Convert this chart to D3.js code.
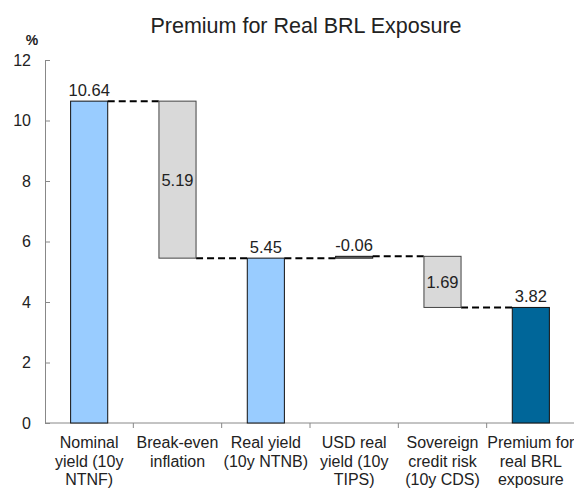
<!DOCTYPE html>
<html>
<head>
<meta charset="utf-8">
<script src="https://cdnjs.cloudflare.com/ajax/libs/d3/7.8.5/d3.min.js"></script>
<style>
  body { margin: 0; background: #fff; }
  text { font-family: "Liberation Sans", Arial, sans-serif; fill: #222; }
</style>
</head>
<body>
<div id="chart"></div>
<script>
const categories = [
  ['Nominal', 'yield (10y', 'NTNF)'],
  ['Break-even', 'inflation'],
  ['Real yield', '(10y NTNB)'],
  ['USD real', 'yield (10y', 'TIPS)'],
  ['Sovereign', 'credit risk', '(10y CDS)'],
  ['Premium for', 'real BRL', 'exposure']
];
const barLow = [0, 5.45, 0, 5.45, 3.82, 0];
const barHigh = [10.64, 10.64, 5.45, 5.51, 5.51, 3.82];
const labels = ['10.64', '5.19', '5.45', '-0.06', '1.69', '3.82'];
const labelInside = [false, true, false, false, true, false];
const connectors = [10.64, 5.45, 5.45, 5.51, 3.82];
const fills = ['#99CCFF', '#D9D9D9', '#99CCFF', '#7F7F7F', '#D9D9D9', '#006699'];
const yTicks = [0, 2, 4, 6, 8, 10, 12];

const width = 574, height = 491;
const svg = d3.select('#chart').append('svg')
  .attr('width', width).attr('height', height);

const x = d3.scaleBand().domain(d3.range(categories.length))
  .range([45, 575]).paddingInner(0.58).paddingOuter(0.29);
const xb = d3.scaleBand().domain(d3.range(categories.length)).range([45, 575]);
const y = d3.scaleLinear().domain([0, 12]).range([423, 60]);

svg.append('text')
  .attr('x', 306).attr('y', 33)
  .attr('text-anchor', 'middle')
  .attr('font-size', '21.5px')
  .text('Premium for Real BRL Exposure');

svg.append('text')
  .attr('x', 32).attr('y', 45)
  .attr('text-anchor', 'middle')
  .attr('font-size', '14px')
  .attr('font-weight', 'bold')
  .text('%');

// y axis
const yAxis = svg.append('g').attr('transform', 'translate(45,0)')
  .call(d3.axisLeft(y).tickValues(yTicks).tickSize(-5).tickPadding(14).tickFormat(d3.format('d')));
yAxis.select('.domain').attr('stroke', '#888');
yAxis.selectAll('.tick line').attr('stroke', '#888');
yAxis.selectAll('.tick text').attr('font-size', '16px').attr('fill', '#222')
  .attr('font-family', '"Liberation Sans", Arial, sans-serif');

// x axis
svg.append('line')
  .attr('x1', 45).attr('x2', 574)
  .attr('y1', y(0)).attr('y2', y(0))
  .attr('stroke', '#888');
svg.selectAll('.xtick')
  .data(d3.range(1, categories.length))
  .enter().append('line')
  .attr('x1', d => xb(d)).attr('x2', d => xb(d))
  .attr('y1', y(0)).attr('y2', y(0) + 5)
  .attr('stroke', '#888');

const catText = svg.selectAll('.cat')
  .data(categories)
  .enter().append('text')
  .attr('text-anchor', 'middle')
  .attr('font-size', '16px')
  .attr('y', 448);
catText.selectAll('tspan')
  .data((d, i) => d.map(t => ({ t, i })))
  .enter().append('tspan')
  .attr('x', d => xb(d.i) + xb.bandwidth() / 2)
  .attr('dy', (d, j) => j === 0 ? 0 : 18.5)
  .text(d => d.t);

// connectors
svg.selectAll('.conn')
  .data(connectors)
  .enter().append('line')
  .attr('x1', (d, i) => x(i) + x.bandwidth())
  .attr('x2', (d, i) => x(i + 1))
  .attr('y1', d => y(d)).attr('y2', d => y(d))
  .attr('stroke', '#000')
  .attr('stroke-width', 2)
  .attr('stroke-dasharray', '7,4');

// bars
svg.selectAll('.bar')
  .data(barHigh)
  .enter().append('rect')
  .attr('x', (d, i) => x(i))
  .attr('width', x.bandwidth())
  .attr('y', d => y(d))
  .attr('height', (d, i) => y(barLow[i]) - y(d))
  .attr('fill', (d, i) => fills[i])
  .attr('stroke', (d, i) => i === 1 || i === 4 ? '#444' : '#111')
  .attr('stroke-width', 1);

// value labels
svg.selectAll('.val')
  .data(labels)
  .enter().append('text')
  .attr('x', (d, i) => x(i) + x.bandwidth() / 2)
  .attr('y', (d, i) => labelInside[i]
    ? (y(barHigh[i]) + y(barLow[i])) / 2 + 6
    : y(barHigh[i]) - 5)
  .attr('text-anchor', 'middle')
  .attr('font-size', '16.5px')
  .text(d => d);
</script>
</body>
</html>
